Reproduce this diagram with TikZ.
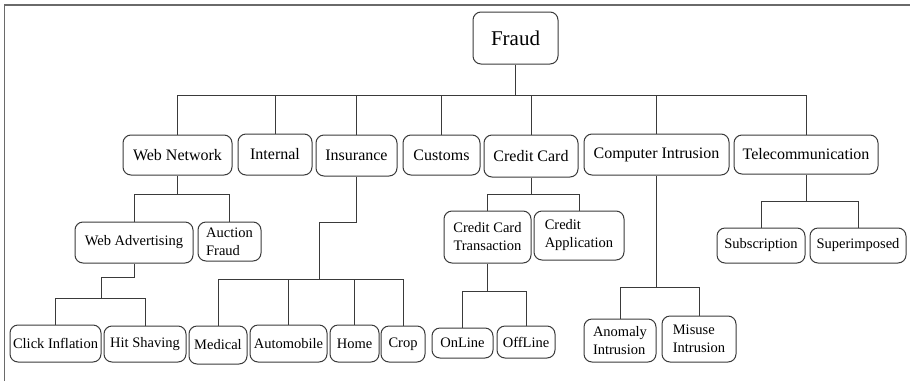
\documentclass[tikz,border=0pt]{standalone}
\usepackage{fontspec}
\setmainfont{Liberation Serif}
\usetikzlibrary{positioning,calc}

\definecolor{linegray}{HTML}{3A3A3A}
\definecolor{framegray}{HTML}{6A6A6A}

\tikzset{
    box/.style={draw=linegray,line width=1pt,rounded corners=8pt,inner sep=0pt,
        font=\fontsize{16}{19}\selectfont},
    smallbox/.style={box,font=\fontsize{14.5}{18}\selectfont},
    link/.style={draw=linegray,line width=0.9pt}
}

\begin{document}
\begin{tikzpicture}[x=1pt,y=-1pt]
    \useasboundingbox (0,0) rectangle (910,381);

    % Frame
    \draw[framegray,line width=1.8pt] (4.5,381) -- (4.5,5) -- (910,5);

    % Root
    \node[box,minimum width=85,minimum height=52,font=\fontsize{21}{24}\selectfont] (fraud) at (515.5,38) {Fraud};

    % First level
    \node[box,minimum width=109,minimum height=40] (web) at (177.5,155) {Web Network};
    \node[box,minimum width=74,minimum height=41] (internal) at (275,154.5) {Internal};
    \node[box,minimum width=81,minimum height=41] (insurance) at (356.5,155.5) {Insurance};
    \node[box,minimum width=77,minimum height=40] (customs) at (441.5,155) {Customs};
    \node[box,minimum width=94,minimum height=42] (credit) at (531,156) {Credit Card};
    \node[box,minimum width=145,minimum height=41] (computer) at (656.5,154.5) {Computer Intrusion};
    \node[box,minimum width=144,minimum height=39] (telecom) at (806,154.5) {Telecommunication};

    % Second level
    \node[smallbox,minimum width=118,minimum height=41] (webadv) at (134,242.5) {Web Advertising};
    \node[smallbox,minimum width=63,minimum height=39,align=left] (auction) at (229.5,241.5) {Auction\\Fraud};
    \node[smallbox,minimum width=87,minimum height=52,align=center] (cctrans) at (487.5,237) {Credit Card\\Transaction};
    \node[smallbox,minimum width=90,minimum height=49,align=left] (ccapp) at (579,235.5) {Credit\\Application};
    \node[smallbox,minimum width=88,minimum height=35] (subscr) at (761,245.5) {Subscription};
    \node[smallbox,minimum width=96,minimum height=35] (superimp) at (858,245.5) {Superimposed};

    % Leaves
    \node[smallbox,minimum width=91,minimum height=37] (click) at (55.5,343.5) {Click Inflation};
    \node[smallbox,minimum width=82,minimum height=36] (hit) at (145,344) {Hit Shaving};
    \node[smallbox,minimum width=58,minimum height=38] (medical) at (218,345) {Medical};
    \node[smallbox,minimum width=77,minimum height=37] (auto) at (288.5,343.5) {Automobile};
    \node[smallbox,minimum width=49,minimum height=37] (home) at (354.5,343.5) {Home};
    \node[smallbox,minimum width=44,minimum height=36] (crop) at (403,344) {Crop};
    \node[smallbox,minimum width=61,minimum height=30] (online) at (462.5,343) {OnLine};
    \node[smallbox,minimum width=58,minimum height=32] (offline) at (526,342) {OffLine};
    \node[smallbox,minimum width=72,minimum height=43,align=left] (anomaly) at (620,340.5) {Anomaly\\Intrusion};
    \node[smallbox,minimum width=74,minimum height=46,align=left] (misuse) at (699,339) {Misuse\\Intrusion};

    % Fraud to first level
    \draw[link] (web.north) |- (515.5,95) -- (fraud.south);
    \draw[link] (internal.north) |- (515.5,95);
    \draw[link] (insurance.north) |- (515.5,95);
    \draw[link] (customs.north) |- (515.5,95);
    \draw[link] (credit.north) |- (515.5,95);
    \draw[link] (computer.north) |- (515.5,95);
    \draw[link] (telecom.north) |- (515.5,95);

    % Web Network branch
    \draw[link] (webadv.north) |- (177.5,194) -- (web.south);
    \draw[link] (auction.north) |- (177.5,194);
    \draw[link] (click.north) |- (101,298) -- (101,277) -| (webadv.south);
    \draw[link] (hit.north) |- (101,298);

    % Insurance branch
    \draw[link] (medical.north) |- (319,279) -- (319,222) -| (insurance.south);
    \draw[link] (auto.north) |- (319,279);
    \draw[link] (home.north) |- (319,279);
    \draw[link] (crop.north) |- (319,279);

    % Credit Card branch
    \draw[link] (cctrans.north) |- (531,194) -- (credit.south);
    \draw[link] (ccapp.north) |- (531,194);
    \draw[link] (online.north) |- (487.5,291) -- (cctrans.south);
    \draw[link] (offline.north) |- (487.5,291);

    % Computer Intrusion branch
    \draw[link] (anomaly.north) |- (656.5,287) -- (computer.south);
    \draw[link] (misuse.north) |- (656.5,287);

    % Telecommunication branch
    \draw[link] (subscr.north) |- (806,201) -- (telecom.south);
    \draw[link] (superimp.north) |- (806,201);
\end{tikzpicture}
\end{document}
